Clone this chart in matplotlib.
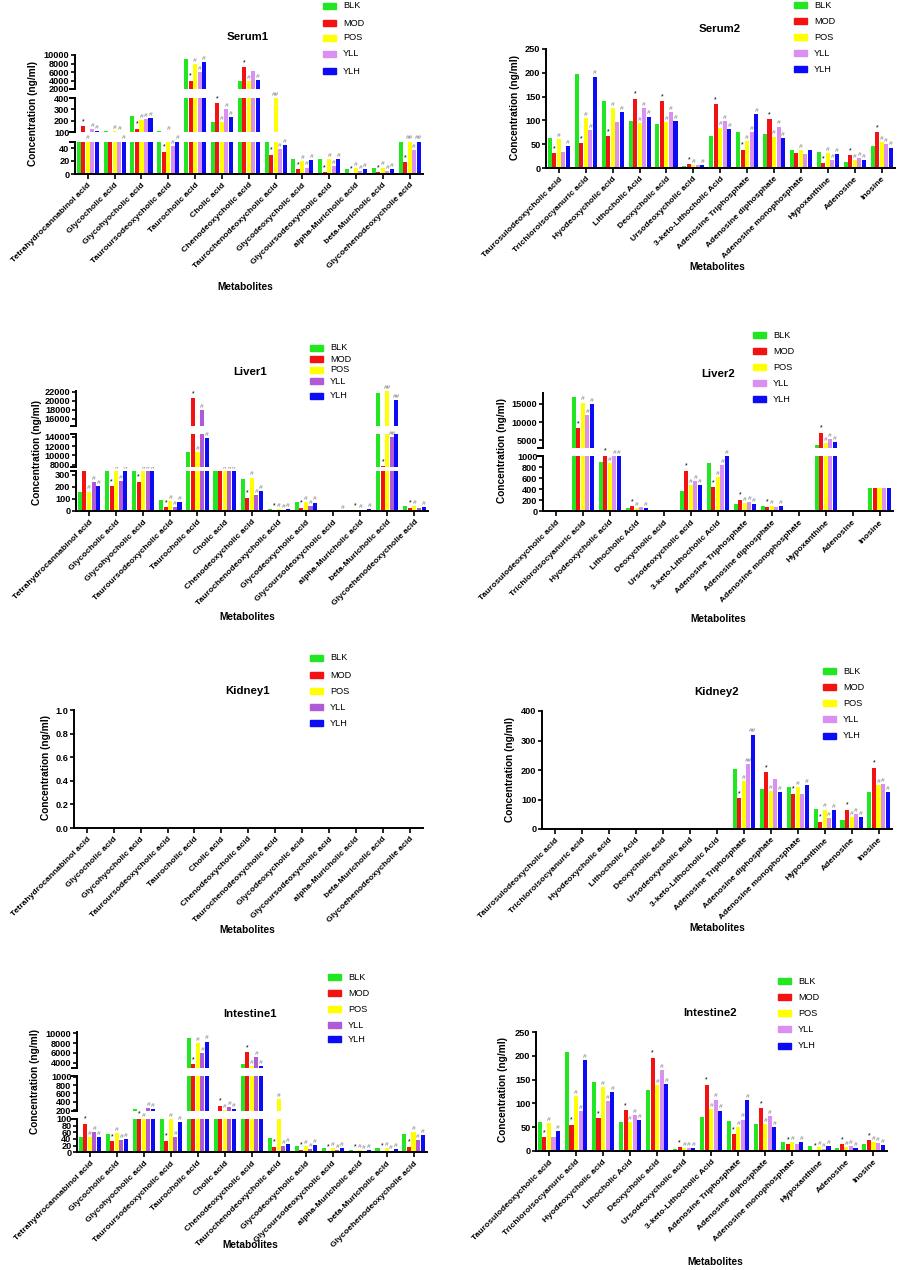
import matplotlib.pyplot as plt
from matplotlib.patches import Rectangle
import numpy as np

plt.rcParams['font.family'] = ['Liberation Sans', 'DejaVu Sans']
plt.rcParams['font.weight'] = 'bold'

W, H = 898, 1270  # figure size in pixels (dpi 100)

GROUPS = ['BLK', 'MOD', 'POS', 'YLL', 'YLH']

BILE_ACIDS = ['Tetrahydrocannabinol acid', 'Glycocholic acid', 'Glycohyocholic acid',
              'Tauroursodeoxycholic acid', 'Taurocholic acid', 'Cholic acid',
              'Chenodeoxycholic acid', 'Taurochenodeoxycholic acid', 'Glycodeoxycholic acid',
              'Glycoursodeoxycholic acid', 'alpha-Muricholic acid', 'beta-Muricholic acid',
              'Glycoehenodeoxycholie acid']
OTHERS = ['Taurosulodeoxycholic acid', 'Trichloroisocyanuric acid', 'Hyodeoxycholic acid',
          'Lithocholic Acid', 'Deoxycholic acid', 'Ursodeoxycholic acid',
          '3-keto-Lithocholic Acid', 'Adenosine Triphosphate', 'Adenosine diphosphate',
          'Adenosine monophosphate', 'Hypoxanthine', 'Adenosine', 'Inosine']

# concentrations (ng/ml), rows = metabolites, cols = BLK, MOD, POS, YLL, YLH
serum1 = np.array([[95, 150, 98, 125, 112],
                   [105, 95, 112, 100, 95],
                   [245, 130, 203, 215, 220],
                   [105, 34, 102, 43, 80],
                   [9000, 3940, 7900, 5900, 8250],
                   [185, 353, 185, 306, 232],
                   [3950, 7100, 3950, 6150, 4100],
                   [75, 30, 1000, 38, 45],
                   [23, 7, 20, 10, 21],
                   [23, 3, 23, 12, 23],
                   [8, 1, 9, 4, 8],
                   [10, 3, 10, 4, 8],
                   [70, 18, 70, 37, 70]])
serum2 = np.array([[63, 31, 61, 33, 46],
                   [198, 52, 105, 79, 192],
                   [140, 67, 126, 97, 117],
                   [99, 146, 95, 125, 108],
                   [92, 140, 97, 118, 98],
                   [5, 8, 6, 7, 6],
                   [67, 134, 85, 98, 82],
                   [75, 38, 56, 75, 114],
                   [71, 102, 66, 87, 62],
                   [38, 31, 38, 30, 37],
                   [33, 10, 31, 16, 29],
                   [13, 27, 16, 21, 16],
                   [47, 75, 54, 51, 43]])
liver1 = np.array([[160, 400, 160, 240, 203],
                   [400, 206, 400, 250, 400],
                   [400, 241, 400, 400, 400],
                   [90, 32, 85, 32, 71],
                   [10650, 20550, 10800, 17980, 13700],
                   [400, 400, 400, 400, 400],
                   [265, 109, 276, 135, 168],
                   [20, 4, 15, 8, 18],
                   [72, 25, 75, 38, 70],
                   [2, 1, 1, 1, 3],
                   [12, 3, 10, 4, 14],
                   [21650, 7700, 22100, 14050, 20100],
                   [45, 25, 40, 25, 30]])
liver2 = np.array([[0, 0, 0, 0, 0],
                   [16800, 8300, 15400, 11900, 14900],
                   [890, 1050, 870, 1050, 1050],
                   [60, 95, 65, 75, 65],
                   [5, 2, 2, 2, 2],
                   [373, 729, 482, 542, 480],
                   [870, 434, 614, 837, 1050],
                   [140, 210, 150, 175, 130],
                   [100, 85, 100, 75, 95],
                   [0, 0, 0, 0, 0],
                   [3700, 7100, 4150, 5350, 4550],
                   [3, 1, 1, 1, 1],
                   [430, 425, 415, 415, 415]])
kidney1 = np.zeros((13, 5))
kidney2 = np.array([[0, 0, 0, 0, 0],
                    [0, 0, 0, 0, 0],
                    [0, 0, 0, 0, 0],
                    [0, 0, 0, 0, 0],
                    [0, 0, 0, 0, 0],
                    [0, 0, 0, 0, 0],
                    [0, 0, 0, 0, 0],
                    [202, 105, 163, 219, 320],
                    [136, 192, 130, 170, 126],
                    [142, 120, 143, 118, 148],
                    [68, 24, 66, 38, 63],
                    [32, 66, 40, 50, 40],
                    [125, 208, 148, 153, 125]])
intestine1 = np.array([[47, 85, 47, 62, 46],
                       [54, 33, 57, 37, 40],
                       [225, 130, 140, 240, 215],
                       [140, 35, 140, 47, 90],
                       [9000, 3700, 7950, 6050, 8300],
                       [150, 304, 190, 280, 220],
                       [3700, 6100, 3320, 5100, 3320],
                       [43, 16, 456, 20, 24],
                       [20, 8, 20, 10, 21],
                       [14, 2, 14, 6, 12],
                       [8, 3, 8, 4, 8],
                       [12, 4, 12, 5, 9],
                       [54, 17, 61, 36, 52]])
intestine2 = np.array([[60, 29, 58, 30, 41],
                       [207, 55, 116, 84, 191],
                       [144, 69, 134, 104, 124],
                       [61, 86, 61, 76, 65],
                       [129, 196, 138, 170, 140],
                       [5, 8, 6, 7, 6],
                       [71, 139, 89, 108, 85],
                       [63, 35, 51, 66, 107],
                       [57, 90, 57, 73, 51],
                       [19, 14, 18, 14, 18],
                       [10, 2, 9, 5, 10],
                       [6, 14, 8, 10, 7],
                       [14, 23, 18, 17, 13]])

# significance marks per metabolite, one token per group ('-' = none)
D = '- * # # #'
N = '- - - - -'
serum1_marks = [D, '- - # # #', D, D, D, D, '- * # - #', '- * ## # #', D, D, D, D, '- * ## # ##']
serum2_marks = ['- * # - #', D, '- * # - #', D, D, '- * # - #', D, D, D, '- - # - -', D, D, D]
liver1_marks = [D, D, D, D, D, D, D, D, D, '- - - - #', '- * # - #', '- * ## ## ##', '- * # - #']
liver2_marks = [N, D, D, '- * # - #', N, D, D, D, '- * # - #', N, D, N, N]
kidney1_marks = [N] * 13
kidney2_marks = [N] * 7 + ['- * # ## ##', '- * # - #', '- * # - #', D, D, D]
intestine1_marks = [D] * 13
intestine2_marks = ['- * # - #', D, D, D, D, D, D, D, D, '- * # - #', D, D, D]

fig = plt.figure(figsize=(W / 100, H / 100), dpi=100)


def seg_for(v, segs):
    for k in range(len(segs) - 1, -1, -1):
        if v >= segs[k][0]:
            return k, min(v, segs[k][1])
    return 0, v


def add_panel(title, names, vals, marks, x0, x1, segs, yll, title_xy, ylab_xy, xlab_xy,
              leg_x, leg_rows, fmt='%d'):
    colors = ['#22e622', '#f21212', '#ffff00', yll, '#0b0bf5']
    xs = np.arange(len(names))
    step = 0.168
    capw = 5.0 / (x1 - x0)
    axes = []
    for k, (lo, hi, yb, yt, ticks) in enumerate(segs):
        ax = fig.add_axes([x0 / W, 1 - yb / H, (x1 - x0) / W, (yb - yt) / H])
        for j in range(len(GROUPS)):
            ax.bar(xs + (j - 2) * step, vals[:, j], width=0.15, color=colors[j], zorder=2)
        ax.set_xlim(-0.48, len(names) - 0.5)
        ax.set_ylim(lo, hi)
        ax.set_yticks(ticks)
        ax.set_yticklabels([fmt % t for t in ticks], fontsize=6.6, fontweight='bold')
        ax.spines['top'].set_visible(False)
        ax.spines['right'].set_visible(False)
        ax.spines['left'].set_linewidth(1.4)
        ax.tick_params(axis='y', length=3, width=1.2, pad=1)
        tr = ax.get_yaxis_transform()
        if k > 0:
            ax.plot([-capw, 0], [lo, lo], transform=tr, color='k', lw=1.4, clip_on=False)
        if k < len(segs) - 1:
            ax.plot([-capw, 0], [hi, hi], transform=tr, color='k', lw=1.4, clip_on=False)
        if k == 0:
            ax.spines['bottom'].set_linewidth(1.4)
            ax.set_xticks(xs)
            ax.set_xticklabels(names, rotation=45, ha='right', rotation_mode='anchor',
                               fontsize=6.1, fontweight='bold')
            ax.tick_params(axis='x', length=3.5, width=1.2, pad=2)
        else:
            ax.spines['bottom'].set_visible(False)
            ax.set_xticks([])
        axes.append(ax)

    for i, row in enumerate(marks):
        for j, m in enumerate(row.split()):
            if m == '-':
                continue
            k, y = seg_for(vals[i, j], segs)
            star = m == '*'
            axes[k].annotate(m, (xs[i] + (j - 2) * step, y), xytext=(0, 0.8),
                             textcoords='offset points', ha='center', va='bottom',
                             fontsize=5 if star else 4.6, color='k' if star else '#777777',
                             style='normal' if star else 'italic', fontweight='normal',
                             annotation_clip=False, zorder=5)

    fig.text(title_xy[0] / W, 1 - title_xy[1] / H, title, ha='center', va='center',
             fontsize=8.2, fontweight='bold')
    fig.text(ylab_xy[0] / W, 1 - ylab_xy[1] / H, 'Concentration (ng/ml)', rotation=90,
             ha='center', va='center', fontsize=7.3, fontweight='bold')
    fig.text(xlab_xy[0] / W, 1 - xlab_xy[1] / H, 'Metabolites', ha='center', va='center',
             fontsize=7.3, fontweight='bold')
    for j, (g, ry) in enumerate(zip(GROUPS, leg_rows)):
        fig.add_artist(Rectangle((leg_x / W, 1 - (ry + 3) / H), 13 / W, 6 / H,
                                 transform=fig.transFigure, color=colors[j]))
        fig.text((leg_x + 20) / W, 1 - ry / H, g, ha='left', va='center',
                 fontsize=6.6, fontweight='normal')


LIGHT = '#da90f2'
DARK = '#b05ad6'

add_panel('Serum1', BILE_ACIDS, serum1, serum1_marks, 75, 423,
          [(0, 50, 174, 141.5, [0, 20, 40]),
           (100, 400, 132, 98, [100, 200, 300, 400]),
           (2000, 10000, 89, 55, [2000, 4000, 6000, 8000, 10000])],
          LIGHT, (248, 37), (33, 113), (245, 287), 323, [6, 23, 38, 54, 71])

add_panel('Serum2', OTHERS, serum2, serum2_marks, 546, 895,
          [(0, 250, 168, 49, [0, 50, 100, 150, 200, 250])],
          LIGHT, (720, 29), (515, 107), (717, 267), 794, [5, 21, 37, 53, 69])

add_panel('Liver1', BILE_ACIDS, liver1, liver1_marks, 76, 428,
          [(0, 330, 511, 471, [0, 100, 200, 300]),
           (7450, 14570, 467.3, 434.3, [8000, 10000, 12000, 14000]),
           (14460, 22200, 426, 390.7, [16000, 18000, 20000, 22000])],
          DARK, (250, 372), (37, 452), (247, 617), 310, [348, 359, 370, 381, 396])

add_panel('Liver2', OTHERS, liver2, liver2_marks, 543, 893,
          [(0, 1000, 511.3, 456, [0, 200, 400, 600, 800, 1000]),
           (2960, 18110, 447.7, 392.7, [5000, 10000, 15000])],
          LIGHT, (718, 374), (502, 451), (718, 619), 753, [335, 351, 367, 383, 399])

add_panel('Kidney1', BILE_ACIDS, kidney1, kidney1_marks, 74, 423,
          [(0, 1, 828, 710, [0.0, 0.2, 0.4, 0.6, 0.8, 1.0])],
          DARK, (248, 691), (46, 768), (247, 930), 310, [658, 675, 691, 707, 723], fmt='%.1f')

add_panel('Kidney2', OTHERS, kidney2, kidney2_marks, 542, 892,
          [(0, 400, 829, 711, [0, 100, 200, 300, 400])],
          LIGHT, (717, 692), (510, 770), (717, 928), 823, [671, 687, 703, 719, 736])

add_panel('Intestine1', BILE_ACIDS, intestine1, intestine1_marks, 77, 427,
          [(0, 100, 1152.3, 1119, [0, 20, 40, 60, 80, 100]),
           (176, 1024, 1111, 1075.7, [200, 400, 600, 800, 1000]),
           (2976, 10200, 1067.7, 1032.3, [4000, 6000, 8000, 10000])],
          DARK, (250, 1014), (35, 1082), (250, 1245), 328, [977, 993, 1009, 1025, 1039])

add_panel('Intestine2', OTHERS, intestine2, intestine2_marks, 536, 887,
          [(0, 250, 1151, 1032, [0, 50, 100, 150, 200, 250])],
          LIGHT, (710, 1013), (503, 1090), (715, 1262), 778, [981, 997, 1013, 1029, 1046])

fig.savefig('out.png', dpi=100, facecolor='white')
